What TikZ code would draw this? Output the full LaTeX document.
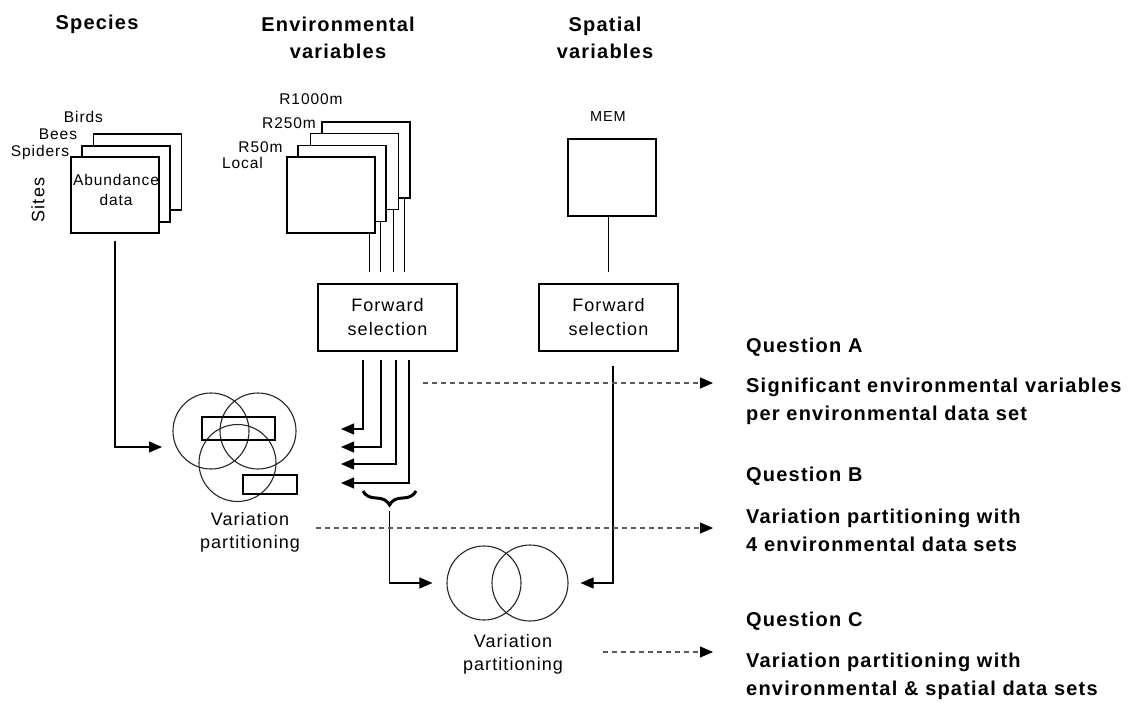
\documentclass[tikz,border=0pt]{standalone}
\usepackage{fontspec}
\setmainfont{Liberation Sans}[LetterSpace=6]
\usetikzlibrary{arrows.meta,decorations.pathreplacing}

\begin{document}
\begin{tikzpicture}[x=1pt,y=-1pt,
	hd/.style={font=\fontsize{20}{27}\selectfont\bfseries,align=center},
	qtxt/.style={font=\fontsize{20}{28}\selectfont\bfseries,align=left,anchor=west,inner sep=0},
	lbl/.style={font=\fontsize{15.5}{20}\selectfont,inner sep=0},
	vplbl/.style={font=\fontsize{18}{23}\selectfont,align=center,inner sep=0},
	sheet/.style={draw,fill=white,line width=1.1pt,minimum width=88pt,minimum height=76pt,inner sep=0},
	fsbox/.style={draw,line width=1.1pt,minimum width=139pt,minimum height=67pt,align=center,font=\fontsize{18}{24}\selectfont},
	venn/.style={draw=black!85,circle,line width=1.1pt,minimum size=76pt,inner sep=0},
	part/.style={draw,line width=1.1pt,inner sep=0},
	conn/.style={line width=1.1pt},
	arr/.style={conn,-{Triangle[length=13pt,width=11pt]}},
	dsh/.style={draw=black!65,line width=1.1pt,dash pattern=on 5pt off 4pt,-{Triangle[length=13pt,width=11pt,color=black]}}]

	\useasboundingbox (0,0) rectangle (1132,704);

	%------------------------------------------------------
	\node[hd] (hdspec) at (97,24) {Species};
	\node[hd] (hdenv) at (338,37.5) {Environmental\\variables};
	\node[hd] (hdspat) at (605,37.5) {Spatial\\variables};
	%------------------------------------------------------


	%------------------------------------------------------
	\node[sheet] (birds) at (137.5,172) {};
	\node[sheet] (bees) at (126,184) {};
	\node[sheet] (spiders) at (115,195) {};
	\node[lbl,align=center] (abd) at (116,190) {Abundance\\data};
	\node[lbl,font=\fontsize{18}{20}\selectfont,rotate=90] (sites) at (38,200) {Sites};
	\node[lbl] (lbirds) at (83.5,117) {Birds};
	\node[lbl] (lbees) at (58,134) {Bees};
	\node[lbl] (lspiders) at (40,152) {Spiders};
	%------------------------------------------------------


	%------------------------------------------------------
	\node[sheet] (rthousand) at (366,160) {};
	\node[sheet] (rtwofifty) at (354.5,171.5) {};
	\node[sheet] (rfifty) at (342,183.5) {};
	\node[sheet] (local) at (331,195) {};
	\node[lbl] (lthousand) at (311,99) {R1000m};
	\node[lbl] (ltwofifty) at (289,123) {R250m};
	\node[lbl] (lfifty) at (260.5,147) {R50m};
	\node[lbl] (llocal) at (242.5,163) {Local};

	\node[sheet,minimum height=77pt] (mem) at (612,177.5) {};
	\node[lbl,font=\fontsize{14.5}{18}\selectfont] (lmem) at (608,117) {MEM};
	%------------------------------------------------------


	%------------------------------------------------------
	\node[fsbox] (fsenv) at (387.5,317.5) {Forward\\selection};
	\node[fsbox] (fssp) at (608.5,317.5) {Forward\\selection};

	\draw[conn,shorten >=11pt] ([xshift=-6pt]local.south east) -- ([xshift=-6pt]local.south east |- fsenv.north);
	\draw[conn,shorten >=11pt] ([xshift=-6pt]rfifty.south east) -- ([xshift=-6pt]rfifty.south east |- fsenv.north);
	\draw[conn,shorten >=11pt] ([xshift=-6pt]rtwofifty.south east) -- ([xshift=-6pt]rtwofifty.south east |- fsenv.north);
	\draw[conn,shorten >=11pt] ([xshift=-6pt]rthousand.south east) -- ([xshift=-6pt]rthousand.south east |- fsenv.north);
	\draw[conn,shorten >=11pt] (fssp.north |- mem.south) -- (fssp.north);
	%------------------------------------------------------


	%------------------------------------------------------
	\node[venn] (va) at (211,431) {};
	\node[venn] (vb) at (258,431) {};
	\node[venn,minimum size=77pt] (vc) at (237.5,463) {};
	\node[part,minimum width=73pt,minimum height=23pt] (pa) at (238.5,428.5) {};
	\node[part,minimum width=54pt,minimum height=19pt] (pb) at (270,484.5) {};
	\node[vplbl] (vpone) at (250,532.5) {Variation\\partitioning};

	\coordinate (vin) at (162,447);
	\draw[arr] ([yshift=-7pt]spiders.south) |- (vin);

	\coordinate (ea) at (341,429);
	\coordinate (eb) at (341,447);
	\coordinate (ec) at (341,464);
	\coordinate (ed) at (341,483);
	\draw[arr] ([xshift=-24.5pt,yshift=-8pt]fsenv.south) |- (ea);
	\draw[arr] ([xshift=-6.5pt,yshift=-8pt]fsenv.south) |- (eb);
	\draw[arr] ([xshift=8.5pt,yshift=-8pt]fsenv.south) |- (ec);
	\draw[arr] ([xshift=21.5pt,yshift=-8pt]fsenv.south) |- (ed);
	%------------------------------------------------------


	%------------------------------------------------------
	\node[venn,minimum size=74pt] (vd) at (484,583) {};
	\node[venn] (ve) at (530,583) {};
	\node[vplbl] (vptwo) at (513,654.5) {Variation\\partitioning};

	\coordinate (brl) at (363,491);
	\coordinate (brr) at (416,491);
	\coordinate (brtip) at (389.5,511);
	\draw[decorate,decoration={brace,amplitude=14pt},line width=3pt] (brr) -- (brl);
	\draw[arr] (brtip) |- ([xshift=-14pt]vd.west);
	\draw[arr] ([xshift=4.5pt,yshift=-14pt]fssp.south) |- ([xshift=12pt]ve.east);
	%------------------------------------------------------


	%------------------------------------------------------
	\node[qtxt] (qa) at (746,347) {Question A};
	\node[qtxt] (ta) at (746,401) {Significant environmental variables\\per environmental data set};
	\node[qtxt] (qb) at (746,476) {Question B};
	\node[qtxt] (tb) at (746,530.5) {Variation partitioning with\\4 environmental data sets};
	\node[qtxt] (qc) at (746,621) {Question C};
	\node[qtxt] (tc) at (746,676.5) {Variation partitioning with\\environmental \& spatial data sets};

	\coordinate (das) at (423,383);
	\coordinate (dae) at (713,383);
	\coordinate (dbs) at (316,528);
	\coordinate (dbe) at (713,528);
	\coordinate (dcs) at (603,652);
	\coordinate (dce) at (713,652);
	\draw[dsh] (das) -- (dae);
	\draw[dsh] (dbs) -- (dbe);
	\draw[dsh] (dcs) -- (dce);
	%------------------------------------------------------

\end{tikzpicture}
\end{document}
